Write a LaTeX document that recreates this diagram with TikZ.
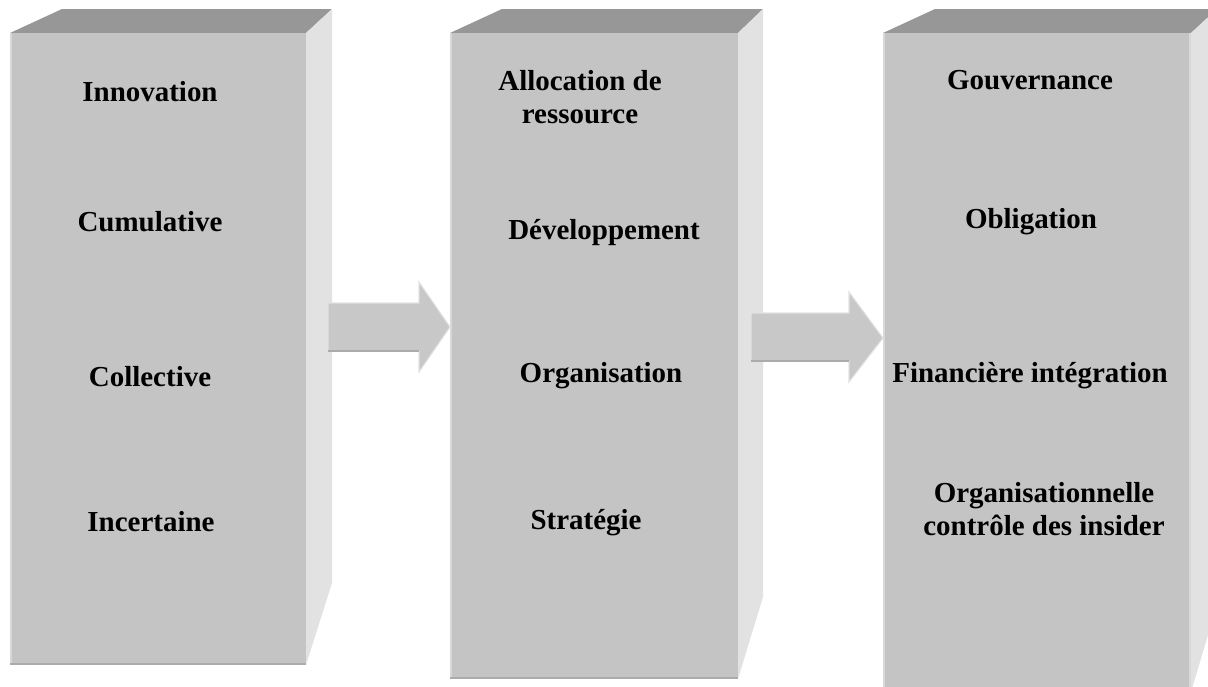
\documentclass[tikz,border=0pt]{standalone}
\usepackage{fontspec}
\setmainfont{Liberation Serif}
\definecolor{frontgray}{HTML}{C4C4C4}
\definecolor{topgray}{HTML}{979797}
\definecolor{sidegray}{HTML}{E2E2E2}
\definecolor{edgelight}{HTML}{D8D8D8}
\definecolor{edgedark}{HTML}{ABABAB}
\definecolor{arrowgray}{HTML}{C8C8C8}
\tikzset{
  front/.style={fill=frontgray},
  topface/.style={fill=topgray},
  sideface/.style={fill=sidegray},
  label/.style={font=\fontsize{20.6pt}{24pt}\selectfont\bfseries, align=center, inner sep=0pt},
  blockarrow/.style={fill=arrowgray, draw=sidegray, line width=0.8pt, line join=miter}
}
\begin{document}
\begin{tikzpicture}[x=0.025cm,y=-0.025cm]
   \useasboundingbox (0,0) rectangle (1208,686);
   \clip (0,0) rectangle (1208,686);
   % first box
   \fill[topface] (10,33) -- (62,9) -- (332,9) -- (306,33) -- cycle;
   \fill[sideface] (306,33) -- (332,9) -- (332,583) -- (306,665) -- cycle;
   \fill[front] (10,33) rectangle (306,665);
   \draw[edgelight, line width=1.5pt] (11,33) -- (11,664);
   \draw[edgedark, line width=1.5pt] (10,664) -- (306,664);
   % second box
   \fill[topface] (450,33) -- (502,9) -- (763,9) -- (738,33) -- cycle;
   \fill[sideface] (738,33) -- (763,9) -- (763,597) -- (738,679) -- cycle;
   \fill[front] (450,33) rectangle (738,679);
   \draw[edgelight, line width=1.5pt] (451,33) -- (451,678);
   \draw[edgedark, line width=1.5pt] (450,678) -- (738,678);
   % third box
   \fill[topface] (883,33) -- (935,9) -- (1217,9) -- (1191,33) -- cycle;
   \fill[sideface] (1191,33) -- (1217,9) -- (1217,605) -- (1191,692) -- cycle;
   \fill[front] (883,33) rectangle (1191,692);
   \draw[edgelight, line width=1.5pt] (884,33) -- (884,692);
   \draw[edgelight, line width=1.5pt] (1190,33) -- (1190,692);
   % arrows
   \filldraw[blockarrow] (328,303) -- (419,303) -- (419,282) -- (450,327)
      -- (419,372) -- (419,351) -- (328,351) -- cycle;
   \draw[edgedark, line width=0.8pt] (328,351) -- (419,351);
   \filldraw[blockarrow] (751,313) -- (849,313) -- (849,292) -- (883,338)
      -- (849,382) -- (849,361) -- (751,361) -- cycle;
   \draw[edgedark, line width=0.8pt] (751,361) -- (849,361);
   % texts
   \node[label] (inno) at (150,92) {Innovation};
   \node[label] (cumu) at (150,222) {Cumulative};
   \node[label] (coll) at (150,377) {Collective};
   \node[label] (ince) at (151,522) {Incertaine};
   \node[label] (allo) at (580,97) {Allocation de\\ressource};
   \node[label] (deve) at (604,233) {Développement};
   \node[label] (orga) at (601,376) {Organisation};
   \node[label] (stra) at (586,523) {Stratégie};
   \node[label] (gouv) at (1030,80) {Gouvernance};
   \node[label] (obli) at (1031,222) {Obligation};
   \node[label] (fina) at (1030,376) {Financière intégration};
   \node[label] (orgc) at (1044,509) {Organisationnelle\\contrôle des insider};
\end{tikzpicture}
\end{document}
